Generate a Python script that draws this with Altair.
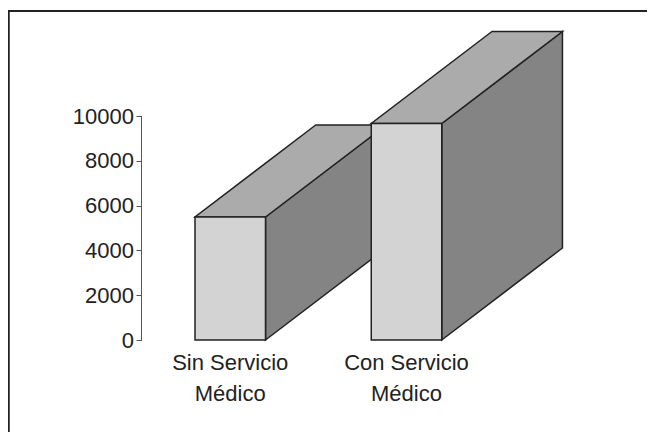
import altair as alt
import pandas as pd

categories = ["Sin Servicio\nMédico", "Con Servicio\nMédico"]
values = [5490, 9665]
positions = [0, 2.5]
bar_width = [1, 1]
depth_x = 1.712
depth_y = 4107
tick_values = [0, 2000, 4000, 6000, 8000, 10000]

FRONT, TOP, SIDE, EDGE = "#d3d3d3", "#ababab", "#848484", "#222222"
FONT = "Liberation Sans"
STROKE = 1.5
xs = alt.Scale(domain=[-187 / 70.5, 452 / 70.5], nice=False, zero=False)
ys = alt.Scale(domain=[-4107.14, 14821.43], nice=False, zero=False)
y_axis = alt.Axis(
    values=tick_values, offset=-133.5, domain=False, grid=False, format="d", title=None,
    tickSize=5.5, tickColor="#555555", tickWidth=1, labelPadding=2.5,
    labelFont=FONT, labelFontSize=22, labelColor="#222222",
)


def X(f):
    return alt.X(f, type="quantitative", scale=xs, axis=None)


def Y(f):
    return alt.Y(f, type="quantitative", scale=ys, axis=y_axis)


layers = []

axis_df = pd.DataFrame({"lo": [tick_values[0]], "hi": [tick_values[-1]]})
layers.append(
    alt.Chart(axis_df).mark_rule(color="#555555", strokeWidth=1).encode(
        x=alt.value(133.5), y=Y("lo"), y2="hi:Q",
    )
)

for pos, w, val in zip(positions, bar_width, values):
    x0, x1 = pos, pos + w
    side = pd.DataFrame({
        "x": [x1, x1 + depth_x],
        "lo": [0, depth_y],
        "hi": [val, val + depth_y],
    })
    layers.append(
        alt.Chart(side).mark_area(color=SIDE, stroke=EDGE, strokeWidth=STROKE, opacity=1).encode(
            x=X("x"), y=Y("lo"), y2="hi:Q"
        )
    )
    top = pd.DataFrame({
        "y": [val, val + depth_y],
        "a": [x0, x0 + depth_x],
        "b": [x1, x1 + depth_x],
    })
    layers.append(
        alt.Chart(top).mark_area(orient="horizontal", color=TOP, stroke=EDGE, strokeWidth=STROKE, opacity=1).encode(
            y=Y("y"), x=X("a"), x2="b:Q"
        )
    )
    front = pd.DataFrame({"a": [x0], "b": [x1], "lo": [0], "hi": [val]})
    layers.append(
        alt.Chart(front).mark_rect(color=FRONT, stroke=EDGE, strokeWidth=STROKE, opacity=1).encode(
            x=X("a"), x2="b:Q", y=Y("lo"), y2="hi:Q"
        )
    )

labels = pd.DataFrame({"x": [p + 0.5 for p in positions], "t": categories})
layers.append(
    alt.Chart(labels).mark_text(
        font=FONT, fontSize=22, color="#222222", align="center", baseline="alphabetic",
        lineBreak="\n", lineHeight=31,
    ).encode(x=X("x"), y=alt.value(362), text="t:N")
)

frame = pd.DataFrame({"a": [0]})
layers.append(
    alt.Chart(frame).mark_rule(color=EDGE, strokeWidth=2).encode(
        x=alt.value(0), x2=alt.value(639), y=alt.value(3)
    )
)
layers.append(
    alt.Chart(frame).mark_rule(color=EDGE, strokeWidth=2).encode(
        x=alt.value(0.75), y=alt.value(2), y2=alt.value(424)
    )
)

chart = (
    alt.layer(*layers)
    .properties(width=639, height=424, padding=0, background="white",
                autosize=alt.AutoSizeParams(type="none"))
    .configure_view(stroke=None)
)
chart.save("out.html", embed_options={"renderer": "svg", "actions": False})
